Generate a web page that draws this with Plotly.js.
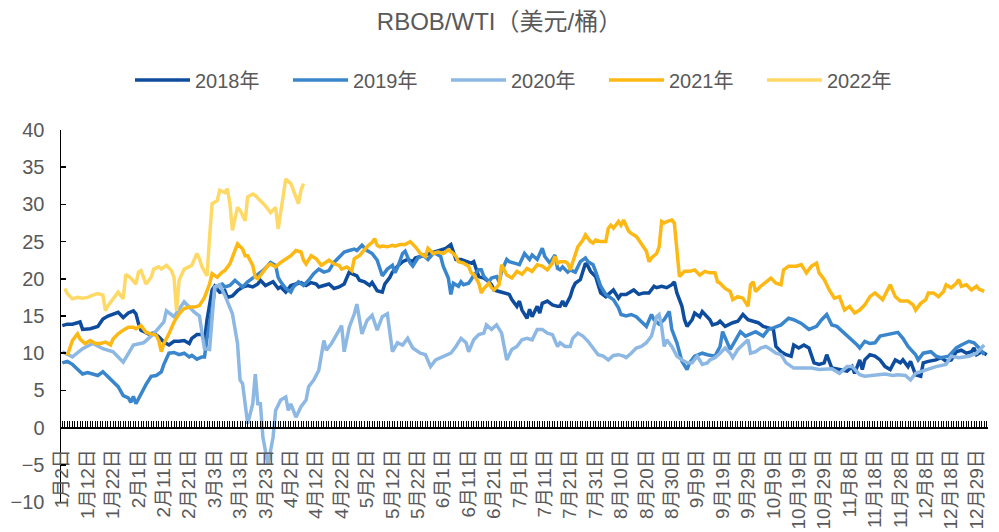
<!DOCTYPE html>
<html><head><meta charset="utf-8">
<script src="https://cdn.plot.ly/plotly-3.0.1.min.js"></script>
<style>html,body{margin:0;padding:0;background:#fff}#chart{width:999px;height:532px}</style>
</head><body><div id="chart"></div>
<script>
const tickLabels = ['1月2日','1月12日','1月22日','2月1日','2月11日','2月21日','3月3日','3月13日','3月23日','4月2日','4月12日','4月22日','5月2日','5月12日','5月22日','6月1日','6月11日','6月21日','7月1日','7月11日','7月21日','7月31日','8月10日','8月20日','8月30日','9月9日','9月19日','9月29日','10月9日','10月19日','10月29日','11月8日','11月18日','11月28日','12月8日','12月18日','12月29日'];

const seriesNames = ['2018年','2019年','2020年','2021年','2022年'];

const x2018 = [0,2,4,7,8,11,14,16,18,20,22,24,26,28,29,30,31,34,36,38,40,42,44,46,48,50,51,53,55,56,57,59,60,62,
64,65,67,69,71,73,75,77,78,80,81,83,85,86,88,90,92,94,96,98,100,101,103,105,107,109,111,113,114,116,117,119,121,122,124,126,127,129,130,
132,134,136,138,139,141,143,145,147,149,151,153,154,155,157,159,161,162,163,164,166,168,169,170,172,174,176,177,179,180,181,183,184,185,187,188,189,191,193,195,
196,197,198,200,201,202,204,206,207,208,210,211,212,214,215,217,219,220,222,223,225,227,229,231,233,234,236,238,240,241,242,244,245,246,248,249,251,252,253,255,256,258,259,
261,264,266,268,270,272,274,276,278,280,281,283,285,287,288,290,292,294,296,298,300,301,303,306,309,311,312,
314,315,316,318,320,322,324,326,328,330,331,333,334,336,338,339,341,344,346,348,350,352,354,356,358,359,360,362,364];
const y2018 = [13.7,13.9,13.9,14.2,13.2,13.3,13.6,14.6,15.0,15.2,15.5,14.8,15.4,15.7,15.3,14.0,13.1,12.6,12.7,12.2,11.5,11.1,11.6,11.6,11.7,11.3,12.0,12.5,12.5,11.6,14.5,18.5,19.0,18.2,
18.4,17.5,17.7,18.4,18.9,19.1,18.9,19.3,19.8,19.1,19.3,19.6,18.7,18.9,18.2,19.1,19.3,19.5,19.1,19.5,19.3,18.9,19.1,19.3,18.7,18.9,19.3,20.9,20.7,20.4,19.8,19.6,19.1,19.5,18.4,18.2,19.3,20.2,20.9,
21.7,22.3,22.6,22.3,22.8,23.0,23.2,23.4,23.7,23.9,24.1,24.6,23.4,22.6,22.6,22.3,22.1,22.3,21.2,20.3,20.1,19.6,19.2,18.5,18.3,18.1,17.9,17.2,16.3,17.0,15.8,14.7,15.9,14.9,16.3,15.4,16.7,17.0,16.5,16.3,
16.3,17.0,16.3,17.6,18.7,19.4,19.9,22.1,21.7,21.0,20.3,19.2,18.1,17.6,17.9,18.5,17.4,17.9,17.9,18.1,18.5,17.9,18.1,18.1,19.0,18.8,19.0,18.8,19.2,19.6,18.1,16.3,14.5,13.6,14.5,15.4,14.9,15.6,15.2,14.5,13.8,14.0,14.3,
13.6,14.1,14.3,15.2,14.5,14.3,14.1,13.6,13.4,13.2,10.9,10.2,9.8,9.6,11.1,10.7,11.1,10.7,8.7,8.5,8.7,9.8,8.0,7.8,7.6,8.2,7.3,
9.1,7.8,9.1,9.8,9.6,9.1,8.2,7.8,9.1,8.7,9.1,8.2,8.9,7.1,6.9,8.7,8.9,9.1,9.4,8.9,9.1,10.2,10.4,10.0,10.2,10.7,9.8,10.2,9.8];

const x2019 = [0,2,4,6,8,10,12,14,16,18,20,22,24,26,27,28,29,31,33,35,37,39,40,42,44,46,48,50,51,53,55,56,57,59,60,61,63,
64,66,68,71,73,76,79,81,82,84,85,86,88,90,91,93,95,97,99,101,103,105,107,109,111,113,115,116,118,120,122,124,125,126,128,130,
131,132,134,135,137,138,140,142,144,146,147,149,150,152,153,154,156,157,158,160,161,162,164,165,166,168,169,171,172,173,175,176,178,180,182,184,185,187,189,190,192,194,195,
196,197,199,200,202,204,206,207,209,210,212,214,215,217,219,220,222,224,226,228,230,232,233,235,237,239,240,242,244,246,247,249,252,254,257,259,260,
263,267,269,273,276,278,280,283,286,288,291,294,297,299,301,303,305,308,311,313,
314,316,318,320,322,325,327,329,331,333,336,337,339,342,344,346,349,352,354,357,359,361,363];
const y2019 = [8.7,8.9,8.5,7.8,7.2,7.4,7.2,7.0,7.5,6.8,6.1,5.5,4.3,4.0,3.4,4.2,3.2,4.6,5.8,6.9,7.0,7.5,8.5,10.0,10.1,9.8,10.0,9.5,9.7,9.2,9.5,9.5,12.0,16.0,18.4,19.0,19.3,
18.9,19.1,19.8,18.9,19.6,20.4,21.1,21.8,22.2,21.8,20.2,19.6,18.7,18.2,18.9,19.6,19.1,19.8,20.7,21.3,20.9,21.1,22.2,22.9,23.6,23.8,24.0,23.8,24.5,23.8,23.4,22.5,21.3,20.4,21.3,21.8,
20.8,21.5,23.4,23.7,22.1,21.7,22.8,23.2,22.6,23.4,23.4,23.0,21.7,20.1,17.9,19.4,19.0,19.6,19.2,19.4,19.9,20.5,21.2,21.2,20.3,19.6,20.1,20.3,19.6,21.0,22.6,22.3,22.1,21.9,23.4,22.6,23.2,22.6,24.1,23.0,22.1,23.2,21.4,
21.2,21.6,20.9,21.2,20.9,22.3,22.8,22.3,21.9,21.0,19.0,17.9,17.7,17.2,16.1,15.2,15.0,15.2,14.9,14.3,13.6,15.2,14.5,13.9,14.5,15.6,13.2,11.4,8.9,7.8,8.7,9.6,10.0,9.8,9.6,10.9,12.9,
10.5,12.9,12.3,12.9,12.3,13.2,13.4,13.8,14.7,14.5,14.0,13.2,13.6,14.5,15.2,13.8,13.6,12.7,11.8,11.1,
10.7,11.6,11.3,11.4,12.3,12.5,12.6,12.8,12.0,10.9,9.8,9.1,10.0,10.2,9.6,9.4,9.6,10.7,11.1,11.6,11.4,10.7,9.8];

const x2020 = [0,4,8,12,16,20,24,28,32,36,40,41,44,48,52,54,56,58,60,62,64,67,69,70,71,72,73,75,76,77,78,79,81,83,84,86,88,89,90,92,
94,96,97,99,101,103,104,106,108,110,111,113,115,116,118,120,122,124,126,128,130,132,134,136,138,141,143,145,147,150,
153,155,157,159,160,162,164,166,167,169,171,173,175,177,179,181,183,185,187,189,191,193,195,196,198,200,201,203,205,207,
209,211,213,215,217,219,221,222,224,226,228,230,232,233,234,235,236,237,238,240,242,244,246,248,250,252,254,255,257,259,
261,263,264,266,268,270,271,273,275,277,279,281,283,285,288,290,293,295,298,301,303,306,309,311,314,316,319,322,324,327,
329,332,334,336,340,344,348,350,353,357,360,363];
const y2020 = [10.2,9.5,10.6,11.3,10.6,10.2,8.8,11.1,11.4,12.6,14.2,15.7,14.9,16.9,15.5,15.0,10.6,10.5,18.9,19.2,17.8,15.3,11.3,6.4,5.9,3.2,0.5,3.2,7.2,3.2,3.2,-1.3,-5.0,-1.3,2.3,3.7,4.1,2.3,3.2,1.4,
2.8,3.7,5.5,6.4,7.7,11.7,10.4,11.3,12.6,13.7,10.2,13.5,15.3,16.6,12.6,14.4,15.1,13.1,14.9,15.3,10.2,11.4,11.1,12.0,10.7,10.0,9.8,8.2,9.1,9.6,
10.0,10.9,12.0,11.4,10.2,11.8,12.5,12.7,13.8,13.2,13.8,12.7,9.1,10.5,10.9,11.8,12.0,11.8,13.2,13.2,12.7,12.5,10.9,11.4,10.9,10.9,12.0,12.7,12.3,11.6,
10.7,9.8,9.6,9.1,9.7,9.8,9.6,9.4,10.0,10.7,10.9,11.4,12.3,13.6,14.9,15.2,13.6,10.9,11.8,10.9,9.6,9.1,8.7,8.7,9.6,8.5,8.7,9.1,9.4,10.0,
10.7,10.0,9.4,10.5,11.1,11.8,10.0,10.2,10.7,10.9,10.5,10.0,9.8,8.7,8.0,8.0,7.9,8.0,7.8,7.8,7.9,7.3,8.2,8.2,7.1,6.9,7.0,7.1,7.2,7.0,
7.1,7.0,6.4,7.3,7.8,8.2,8.5,9.6,9.4,9.6,10.0,11.1];

const x2021 = [2,3,4,6,7,9,11,13,15,17,19,20,22,24,26,28,29,31,33,35,37,38,39,40,42,44,46,48,50,52,54,56,58,59,61,63,
64,66,68,69,71,72,73,75,76,77,79,81,82,84,86,88,90,92,94,95,96,98,99,100,102,103,105,107,109,110,112,114,115,117,118,119,120,122,123,124,125,126,128,130,
131,133,135,137,139,141,143,144,146,148,150,152,154,155,156,158,160,161,162,164,165,166,168,169,170,172,173,174,175,177,179,181,183,185,187,189,191,193,194,195,
196,198,199,200,202,203,205,206,208,209,210,212,214,215,216,217,219,220,221,223,224,226,227,229,230,231,232,234,235,236,237,238,240,241,242,243,245,247,249,251,253,255,257,258,259,
261,263,264,266,268,270,271,272,273,275,277,279,281,283,284,286,289,291,293,295,297,298,300,302,304,306,308,310,312,
314,316,318,320,322,323,326,328,330,333,335,336,338,340,341,343,345,347,348,350,352,353,354,356,358,360,361,363];
const y2021 = [9.7,10.8,11.7,12.6,11.9,11.3,11.7,11.3,11.3,11.5,11.1,11.9,12.6,13.1,13.5,13.5,13.3,13.7,12.8,12.6,12.4,11.7,10.2,11.3,12.6,14.2,15.3,16.0,16.2,16.2,16.4,17.5,19.3,20.7,20.2,20.9,
21.1,22.0,23.8,24.7,24.0,23.1,23.1,21.8,20.2,20.0,20.9,21.8,22.0,21.6,22.2,22.7,23.1,23.8,23.6,22.5,22.0,23.1,22.9,22.7,21.8,22.0,22.5,22.0,21.8,21.3,21.6,21.1,22.7,23.1,23.5,23.8,24.3,24.9,25.4,24.5,24.3,24.4,24.3,24.5,
24.4,24.6,24.6,25.0,24.3,23.4,23.0,24.1,23.4,23.6,23.4,23.9,23.4,23.0,22.3,22.1,21.7,20.8,20.6,19.4,18.1,18.7,19.4,18.8,18.5,19.2,21.9,21.2,20.5,20.1,21.0,20.6,21.4,21.0,21.9,21.7,21.2,22.1,23.0,22.1,
22.3,22.3,22.1,21.2,23.4,24.3,25.2,25.9,25.0,24.8,25.2,25.0,25.0,26.8,27.2,26.8,27.7,27.2,27.9,26.4,26.1,25.7,25.2,24.1,23.7,22.3,22.8,23.4,24.3,27.7,27.5,27.7,27.9,27.5,23.9,20.3,21.0,21.0,21.2,20.5,21.0,20.8,20.8,19.6,19.4,
18.7,18.3,17.2,17.6,17.4,16.3,19.2,19.6,18.3,19.0,19.6,20.1,19.4,19.2,21.2,21.7,21.7,21.9,20.8,21.7,22.1,20.8,19.9,18.5,17.4,17.6,15.8,16.3,15.4,
15.8,16.5,17.6,18.1,17.4,17.2,19.2,17.6,17.0,17.0,16.5,15.8,16.7,17.2,18.1,18.1,17.6,18.3,19.2,18.8,19.4,19.9,19.0,19.2,18.5,19.0,18.6,18.3];

const x2022 = [1,2,4,6,8,10,12,14,16,17,18,20,22,24,25,27,29,30,31,33,35,36,38,39,41,43,44,45,46,48,50,51,53,54,55,57,58,59,61,62,
64,65,66,67,69,70,72,73,75,76,78,80,82,84,85,86,87,88,90,91,92,93,94,95];
const y2022 = [18.7,18.0,17.3,17.5,17.4,17.5,17.8,18.0,17.8,15.7,16.4,17.3,18.2,17.3,20.6,20.1,19.3,20.9,21.1,19.3,20.2,21.3,21.6,21.3,21.8,21.1,20.2,15.7,19.8,21.3,21.6,21.8,23.4,22.7,21.6,20.4,25.6,30.1,30.5,31.9,
31.6,32.1,30.1,26.5,29.6,29.2,27.8,31.0,31.4,31.2,30.5,29.8,28.9,29.6,26.7,28.9,31.0,33.4,32.8,31.9,31.2,30.1,31.9,32.8];

const seriesX = [x2018, x2019, x2020, x2021, x2022];
const seriesY = [y2018, y2019, y2020, y2021, y2022];
const seriesColors = ['#0E4C9E', '#3A86CD', '#8DB8E3', '#FDB813', '#FFD966'];

const FONT = 'Liberation Sans, Arial, Noto Sans CJK SC, sans-serif';

const traces = seriesNames.map((name, i) => ({
  type: 'scatter', mode: 'lines', name: name,
  x: seriesX[i], y: seriesY[i],
  line: {color: seriesColors[i], width: 3.5},
  hoverinfo: 'skip'
}));

const tickVals = [], tickText = [];
for (let d = 0; d <= 364; d++) {
  tickVals.push(d);
  const k = d / 10;
  tickText.push(d % 10 === 0 && k < tickLabels.length ? tickLabels[k] : '');
}

const layout = {
  width: 999, height: 532,
  paper_bgcolor: '#ffffff', plot_bgcolor: '#ffffff',
  margin: {l: 61, r: 11, t: 130, b: 30},
  font: {family: FONT, color: '#595959'},
  title: {text: 'RBOB/WTI（美元/桶）', font: {family: FONT, size: 24, color: '#595959'},
          x: 0.5, xref: 'container', xanchor: 'center', y: 1 - 22/532, yref: 'container', yanchor: 'middle'},
  showlegend: true,
  legend: {orientation: 'h', x: 130/999, xref: 'container', xanchor: 'left', y: 1 - 80/532, yref: 'container', yanchor: 'middle',
           font: {family: FONT, size: 20, color: '#595959'}, entrywidth: 88, entrywidthmode: 'pixels', itemwidth: 55,
           bgcolor: 'rgba(0,0,0,0)'},
  xaxis: {
    type: 'linear', range: [-0.5, 364.5], anchor: 'free', position: 0.2,
    tickmode: 'array', tickvals: tickVals, ticktext: tickText,
    ticks: 'inside', ticklen: 6, tickwidth: 1, tickcolor: '#000',
    showline: true, linecolor: '#000', linewidth: 2,
    tickangle: -90, tickfont: {family: FONT, size: 19, color: '#595959'},
    ticklabelstandoff: 13,
    showgrid: false, zeroline: false, automargin: false, fixedrange: true
  },
  yaxis: {
    range: [-10, 40], tickmode: 'linear', tick0: 0, dtick: 5,
    ticks: 'inside', ticklen: 5, tickwidth: 1.5, tickcolor: '#000',
    showline: true, linecolor: '#000', linewidth: 1.5,
    tickfont: {family: FONT, size: 20, color: '#595959'},
    ticklabelstandoff: 11,
    showgrid: false, zeroline: false, automargin: false, fixedrange: true
  }
};

Plotly.newPlot('chart', traces, layout, {displayModeBar: false, staticPlot: true});
</script>
</body></html>
